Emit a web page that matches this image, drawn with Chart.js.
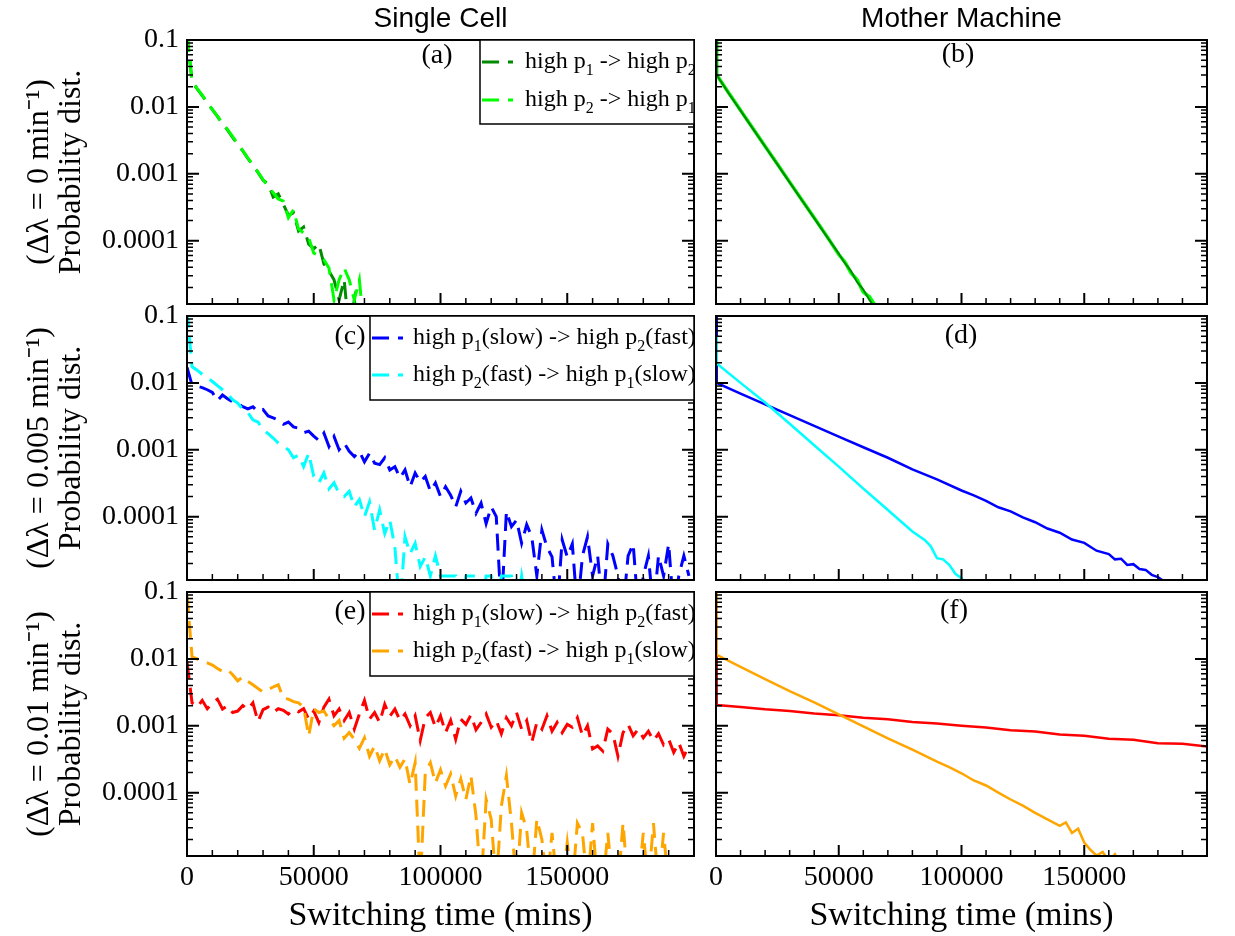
<!DOCTYPE html>
<html>
<head>
<meta charset="utf-8">
<script src="https://cdn.jsdelivr.net/npm/chart.js@4.4.0/dist/chart.umd.min.js"></script>
<style>
  html, body { margin: 0; padding: 0; background: #fff; }
  #wrap { position: relative; width: 1235px; height: 936px; overflow: hidden; background: #fff; }
  canvas { position: absolute; }
</style>
</head>
<body>
<div id="wrap">
  <canvas id="pa"></canvas>
  <canvas id="pb"></canvas>
  <canvas id="pc"></canvas>
  <canvas id="pd"></canvas>
  <canvas id="pe"></canvas>
  <canvas id="pf"></canvas>
</div>
<script>
// ---- data ----
// single cell histograms, one value per bin of binStep mins starting at 0
const binStep = 2000;
const EMPTY = 4e-6; // empty bin, sits below the axis

const scA_p1p2 = [0.12, 0.024, 0.0186, 0.0148, 0.0115, 0.0091, 0.0072, 0.0056, 0.0045, 0.0035,
  0.00275, 0.0022, 0.0017, 0.00135, 0.00105, 0.0008, 0.00071, 0.00045, 0.0005, 0.00035,
  0.00024, 0.00026, 0.00014, 0.00016, 0.000089, 0.000076, 0.000089, 0.000045, 0.000035, 0.000026,
  0.000013, 0.000026, EMPTY, 0.000013, EMPTY];
const scA_p2p1 = [0.12, 0.0245, 0.0188, 0.015, 0.0116, 0.0092, 0.0073, 0.0057, 0.0046, 0.0036,
  0.0028, 0.00222, 0.00172, 0.00136, 0.00106, 0.00082, 0.00065, 0.00052, 0.00042, 0.00039,
  0.00022, 0.00029, 0.00015, 0.00013, 0.00011, 0.000065, 0.00006, 0.000052, 0.000039, 0.000013,
  0.000026, 0.000039, 0.000026, 0.000013, 0.000026, EMPTY];

const scC_slow = [0.017, 0.0093, 0.0089, 0.0085, 0.0079, 0.0072, 0.0054, 0.0066, 0.0058, 0.0052,
  0.0049, 0.0044, 0.0041, 0.0044, 0.0037, 0.004, 0.0032, 0.003, 0.0028, 0.0024,
  0.0026, 0.0022, 0.0021, 0.0018, 0.0019, 0.0016, 0.00138, 0.00178, 0.00112, 0.00158,
  0.001, 0.00126, 0.00095, 0.00079, 0.00095, 0.00066, 0.00089, 0.00063, 0.0006, 0.00076,
  0.0005, 0.00056, 0.00038, 0.0005, 0.00028, 0.00045, 0.00033, 0.0004, 0.00024, 0.00032,
  0.0002, 0.00028, 0.00021, 0.00014, 0.00024, 0.00016, 0.00019, 0.000112, 0.00016, 0.000079,
  0.00014, 0.0001, EMPTY, 0.00012, 0.000071, 0.000089, 0.00004, 0.000076, 0.00005, 0.000013,
  0.000063, 0.000035, 0.000025, EMPTY, 0.000045, 0.000025, 0.000039, EMPTY, 0.000026, 0.00005,
  0.000013, 0.000026, EMPTY, 0.000039, 0.000026, 0.000013, EMPTY, 0.000026, 0.000039, EMPTY,
  0.000013, 0.000026, EMPTY, 0.000026, 0.000013, 0.000039, EMPTY, 0.000013, 0.000026, 0.000013];
const scC_fast = [0.12, 0.0174, 0.0155, 0.0135, 0.012, 0.0105, 0.0091, 0.0079, 0.0068, 0.0056,
  0.005, 0.004, 0.0036, 0.0028, 0.0026, 0.002, 0.00174, 0.0015, 0.00126, 0.00112,
  0.001, 0.00076, 0.00083, 0.00056, 0.00089, 0.0004, 0.00032, 0.00045, 0.00026, 0.00032,
  0.00022, 0.0002, 0.00024, 0.00014, 0.00018, 0.0001, 0.000166, 0.000063, 0.000126, 0.000056,
  0.000089, 0.000035, EMPTY, 0.00005, 0.000028, 0.00004, 0.000018, 0.000025, 0.000013, 0.000026,
  0.000013, 0.000013, 0.000013, 0.000013, EMPTY, 0.000013, 0.000013, 0.000013, EMPTY, 0.000013,
  0.000013, EMPTY, 0.000013, 0.000013, 0.000013, EMPTY, 0.000013, EMPTY];

const scE_slow = [0.009, 0.0022, 0.0019, 0.0024, 0.0018, 0.0022, 0.0025, 0.00178, 0.002, 0.00158,
  0.00166, 0.002, 0.00174, 0.0022, 0.00115, 0.00174, 0.0019, 0.00158, 0.0018, 0.0017,
  0.0015, 0.00174, 0.00162, 0.0018, 0.00126, 0.00166, 0.00112, 0.0019, 0.0025, 0.00141,
  0.00178, 0.0012, 0.00158, 0.00089, 0.0015, 0.0024, 0.00126, 0.00158, 0.00112, 0.0021,
  0.00138, 0.00178, 0.0012, 0.0015, 0.001, 0.00141, 0.0006, 0.00132, 0.00158, 0.00095,
  0.00141, 0.00079, 0.0012, 0.00063, 0.00126, 0.00105, 0.00145, 0.00087, 0.00112, 0.0015,
  0.00095, 0.0012, 0.00076, 0.00132, 0.001, 0.00158, 0.00089, 0.0012, 0.00056, 0.00112,
  0.00089, 0.00141, 0.00083, 0.00112, 0.00079, 0.00105, 0.00095, 0.00132, 0.00071, 0.001,
  0.00045, 0.0005, 0.00042, 0.00089, 0.00076, 0.00035, 0.00079, 0.00105, 0.00071, 0.00089,
  0.00066, 0.00083, 0.0006, 0.00076, 0.00052, 0.00063, 0.0004, 0.00056, 0.00035, 0.0005];
const scE_fast = [0.09, 0.0107, 0.01, 0.0091, 0.0087, 0.0081, 0.0072, 0.0065, 0.0069, 0.0058,
  0.0047, 0.0054, 0.0046, 0.0041, 0.0036, 0.0032, 0.0035, 0.0038, 0.0041, 0.0026,
  0.0025, 0.0023, 0.0022, 0.0019, 0.0007, 0.0018, 0.00158, 0.00166, 0.00126, 0.001,
  0.0012, 0.00065, 0.00079, 0.00063, 0.00046, 0.00066, 0.00035, 0.0005, 0.0003, 0.00045,
  0.00026, 0.00035, 0.00024, 0.00032, 0.000132, 0.00028, EMPTY, 0.0002, 0.00028, 0.00014,
  0.00022, 0.000126, 0.00019, 0.000089, 0.00016, 0.000079, 0.00018, 0.000045, EMPTY, 0.000079,
  0.00004, EMPTY, 0.000063, 0.00018, 0.000035, EMPTY, 0.00005, 0.000028, EMPTY, 0.00004,
  0.00002, EMPTY, 0.000025, EMPTY, EMPTY, 0.000018, EMPTY, 0.000035, 0.000025, EMPTY,
  0.000035, EMPTY, EMPTY, 0.000025, EMPTY, EMPTY, 0.000035, EMPTY, EMPTY, EMPTY,
  0.000025, EMPTY, 0.000035, EMPTY, 0.000025, EMPTY];

// mother machine distributions, explicit switching times (mins)
const mmB_x = [0, 300, 5000, 10000, 15000, 20000, 25000, 30000, 35000, 40000, 45000, 50000,
  52500, 55000, 57500, 60000, 62500, 65000];
const mmB_p1p2 = [0.15, 0.03, 0.0163, 0.0088, 0.00474, 0.00256, 0.00138, 0.000745, 0.000402, 0.000217,
  0.000117, 0.000064, 0.000046, 0.000035, 0.000024, 0.0000185, 0.000013, 0.0000095];
const mmB_p2p1 = [0.15, 0.03, 0.0165, 0.0089, 0.0048, 0.00258, 0.0014, 0.00075, 0.000405, 0.00022,
  0.000119, 0.000062, 0.000048, 0.000033, 0.000026, 0.000017, 0.0000145, 0.0000105];

const mmD_xSlow = [0, 300, 10000, 20000, 30000, 40000, 50000, 60000, 70000, 80000, 90000, 100000,
  105000, 110000, 115000, 120000, 125000, 130000, 135000, 140000, 145000, 150000, 155000, 160000,
  162500, 165000, 167500, 170000, 172500, 175000, 177500, 180000, 182500, 185000];
const mmD_slow = [0.15, 0.01, 0.0069, 0.00478, 0.0033, 0.00228, 0.00157, 0.00109, 0.00076, 0.00051,
  0.00036, 0.000246, 0.000208, 0.000172, 0.000138, 0.00012, 0.0000975, 0.0000825, 0.0000665, 0.0000575,
  0.0000455, 0.0000405, 0.000031, 0.0000275, 0.000023, 0.0000235, 0.000019, 0.0000195, 0.0000165, 0.000016,
  0.0000135, 0.0000125, 0.0000108, 0.000009];
const mmD_xFast = [0, 300, 10000, 20000, 30000, 40000, 50000, 60000, 65000, 70000, 75000, 80000,
  85000, 87500, 90000, 92500, 95000, 97500, 100000, 102500];
const mmD_fast = [0.05, 0.0195, 0.01, 0.0051, 0.00245, 0.00117, 0.00056, 0.000263, 0.000182, 0.000126,
  0.000087, 0.00006, 0.000045, 0.000036, 0.000024, 0.000023, 0.000019, 0.000014, 0.000012, 0.000009];

const mmF_xSlow = [0, 300, 10000, 20000, 30000, 40000, 50000, 60000, 70000, 80000, 90000, 100000,
  110000, 120000, 130000, 140000, 150000, 160000, 170000, 180000, 190000, 200000];
const mmF_slow = [0.2, 0.00204, 0.00191, 0.00176, 0.00166, 0.00152, 0.00144, 0.00132, 0.00125, 0.00114,
  0.00108, 0.001, 0.00094, 0.00086, 0.00082, 0.00074, 0.00071, 0.00064, 0.00062, 0.00055,
  0.00054, 0.00049];
const mmF_xFast = [0, 300, 10000, 20000, 30000, 40000, 50000, 60000, 70000, 80000, 90000, 95000,
  100000, 105000, 110000, 115000, 120000, 125000, 130000, 135000, 140000, 142500, 145000, 147500,
  150000, 152500, 155000, 157500, 160000, 162500, 165000, 167500];
const mmF_fast = [0.15, 0.0115, 0.0076, 0.005, 0.0033, 0.00224, 0.00148, 0.00098, 0.00065, 0.00044,
  0.00029, 0.00024, 0.000195, 0.000152, 0.000128, 0.0001, 0.000079, 0.000064, 0.00005, 0.00004,
  0.000032, 0.000036, 0.000025, 0.000029, 0.000018, 0.000014, 0.0000115, 0.000013, 0.0000095, 0.000012,
  0.000008, 0.000011];

// axes
const xTicks = [0, 50000, 100000, 150000];
const yTickValues = [0.1, 0.01, 0.001, 0.0001];
const yTickLabels = ['0.1', '0.01', '0.001', '0.0001'];
const columnTitles = ['Single Cell', 'Mother Machine'];
const rowTitles = [
  ['(\u0394\u03bb = 0 min\u207b\u00b9)', 'Probability dist.'],
  ['(\u0394\u03bb = 0.005 min\u207b\u00b9)', 'Probability dist.'],
  ['(\u0394\u03bb = 0.01 min\u207b\u00b9)', 'Probability dist.']
];
const xTitle = 'Switching time (mins)';
const labelsNoShift = ['high p\u2081 -> high p\u2082', 'high p\u2082 -> high p\u2081'];
const labelsShift = ['high p\u2081(slow) -> high p\u2082(fast)', 'high p\u2082(fast) -> high p\u2081(slow)'];

const SERIF = '"Liberation Serif", "Times New Roman", serif';
const SANS = '"Liberation Sans", Arial, sans-serif';
const DASH = [17, 9];

function binned(vals) {
  return vals.map((v, i) => ({ x: i * binStep, y: v }));
}
function paired(xs, ys) {
  return xs.map((x, i) => ({ x: x, y: ys[i] }));
}

// text with unicode subscript digits drawn as real lowered digits
function drawSubText(ctx, text, x, y, size) {
  const subs = '\u2080\u2081\u2082\u2083\u2084\u2085\u2086\u2087\u2088\u2089';
  let cx = x;
  let run = '';
  const flush = () => {
    if (!run) return;
    ctx.font = size + 'px ' + SERIF;
    ctx.fillText(run, cx, y);
    cx += ctx.measureText(run).width;
    run = '';
  };
  for (const ch of text) {
    const k = subs.indexOf(ch);
    if (k >= 0) {
      flush();
      ctx.font = Math.round(size * 0.68) + 'px ' + SERIF;
      ctx.fillText(String(k), cx, y + size * 0.3);
      cx += ctx.measureText(String(k)).width;
    } else {
      run += ch;
    }
  }
  flush();
}

// inward ticks, frame, panel tag and boxed legend
const decor = {
  id: 'decor',
  afterDatasetsDraw(chart, args, opts) {
    const ctx = chart.ctx;
    const a = chart.chartArea;
    const x = chart.scales.x, y = chart.scales.y;
    ctx.save();
    ctx.strokeStyle = '#000';
    ctx.setLineDash([]);
    for (let v = 0; v <= x.max; v += 10000) {
      const px = x.getPixelForValue(v);
      const major = v % 50000 === 0;
      ctx.lineWidth = major ? 2 : 1.5;
      ctx.beginPath();
      ctx.moveTo(px, a.bottom);
      ctx.lineTo(px, a.bottom - (major ? 11 : 6));
      ctx.stroke();
    }
    for (let e = -5; e <= -1; e++) {
      for (let k = 1; k <= 9; k++) {
        const v = k * Math.pow(10, e);
        if (v < y.min || v > y.max * 1.0001) continue;
        const py = y.getPixelForValue(v);
        const len = k === 1 ? 12 : 6;
        ctx.lineWidth = k === 1 ? 2 : 1.5;
        ctx.beginPath();
        ctx.moveTo(a.left, py); ctx.lineTo(a.left + len, py);
        ctx.moveTo(a.right, py); ctx.lineTo(a.right - len, py);
        ctx.stroke();
      }
    }
    ctx.lineWidth = 2;
    ctx.strokeRect(a.left, a.top, a.right - a.left, a.bottom - a.top);

    if (opts.legend) {
      const lg = opts.legend;
      const x0 = a.left + lg.x, y0 = a.top;
      ctx.fillStyle = '#fff';
      ctx.fillRect(x0, y0, a.right - x0, lg.h);
      ctx.lineWidth = 1.5;
      ctx.strokeStyle = '#000';
      ctx.strokeRect(x0, y0, a.right - x0, lg.h);
      chart.data.datasets.forEach((ds, i) => {
        const ry = y0 + lg.rows[i];
        ctx.save();
        ctx.strokeStyle = ds.borderColor;
        ctx.lineWidth = 3;
        ctx.setLineDash(ds.borderDash || []);
        ctx.beginPath();
        ctx.moveTo(x0 + 2, ry);
        ctx.lineTo(x0 + 33, ry);
        ctx.stroke();
        ctx.restore();
        ctx.fillStyle = '#000';
        ctx.textAlign = 'left';
        ctx.textBaseline = 'alphabetic';
        drawSubText(ctx, ds.label, x0 + lg.text, ry + 6, 24);
      });
    }
    ctx.fillStyle = '#000';
    ctx.font = '28px ' + SERIF;
    ctx.textAlign = 'center';
    ctx.textBaseline = 'middle';
    ctx.fillText(opts.tag, a.left + opts.tagX, a.top + opts.tagY);
    ctx.restore();
  }
};

function lineSet(label, data, color, dashed, order) {
  return {
    label: label,
    data: data,
    borderColor: color,
    backgroundColor: color,
    borderWidth: dashed ? 3 : 2.5,
    borderDash: dashed ? DASH : [],
    pointRadius: 0,
    tension: 0,
    fill: false,
    clip: 0,
    order: order
  };
}

function makePanel(id, p) {
  const cv = document.getElementById(id);
  cv.width = p.w; cv.height = p.h;
  cv.style.left = p.left + 'px';
  cv.style.top = p.top + 'px';
  const leftCol = p.col === 0;
  const bottomRow = p.row === 2;
  new Chart(cv, {
    type: 'line',
    data: { datasets: p.datasets },
    options: {
      responsive: false,
      animation: false,
      devicePixelRatio: 1,
      events: [],
      layout: { padding: { top: p.padTop, right: p.padRight, left: 0, bottom: 0 } },
      plugins: {
        legend: { display: false },
        tooltip: { enabled: false },
        title: {
          display: p.row === 0,
          text: columnTitles[p.col],
          fullSize: false,
          color: '#000',
          font: { family: SANS, size: 28, weight: 'normal' },
          padding: { top: 2, bottom: 4.4 }
        },
        decor: p.decor
      },
      scales: {
        x: {
          type: 'linear',
          min: 0,
          max: 200000,
          grid: { display: false, drawTicks: false },
          border: { display: false },
          afterBuildTicks: s => { s.ticks = xTicks.map(v => ({ value: v })); },
          afterFit: s => {
            s.height = bottomRow ? 80 : 10;
            s.paddingLeft = 0; s.paddingRight = 0;
          },
          ticks: {
            display: bottomRow,
            autoSkip: false,
            maxRotation: 0,
            padding: 5,
            color: '#000',
            font: { family: SERIF, size: 28 },
            callback: v => String(v)
          },
          title: {
            display: bottomRow,
            text: xTitle,
            color: '#000',
            font: { family: SERIF, size: 34 },
            padding: { top: 0, bottom: 0 }
          }
        },
        y: {
          type: 'logarithmic',
          min: 1.13e-5,
          max: 0.1,
          grid: { display: false, drawTicks: false },
          border: { display: false },
          afterBuildTicks: s => { s.ticks = yTickValues.map(v => ({ value: v })); },
          afterFit: s => {
            s.width = leftCol ? 187 : 16;
            s.paddingTop = 0; s.paddingBottom = 0;
          },
          ticks: {
            display: leftCol,
            autoSkip: false,
            padding: 8,
            color: '#000',
            font: { family: SERIF, size: 28 },
            callback: v => yTickLabels[yTickValues.indexOf(v)]
          },
          title: {
            display: leftCol,
            text: rowTitles[p.row],
            color: '#000',
            font: { family: SERIF, size: 32, lineHeight: 1 },
            padding: { top: 24, bottom: 0 }
          }
        }
      }
    },
    plugins: [decor]
  });
}

// rows: canvas top, height and top padding so plot areas sit at 40/316/592, 264 tall
const rows = [
  { top: 0, h: 314, padTop: 0 },
  { top: 280, h: 310, padTop: 36 },
  { top: 556, h: 380, padTop: 36 }
];
const cols = [
  { left: 0, w: 700, padRight: 6 },
  { left: 700, w: 535, padRight: 28 }
];

function panel(id, row, col, datasets, decorOpts) {
  makePanel(id, {
    row: row, col: col,
    top: rows[row].top, h: rows[row].h, padTop: rows[row].padTop,
    left: cols[col].left, w: cols[col].w, padRight: cols[col].padRight,
    datasets: datasets, decor: decorOpts
  });
}

panel('pa', 0, 0, [
  lineSet(labelsNoShift[0], binned(scA_p1p2), '#008b00', true, 1),
  lineSet(labelsNoShift[1], binned(scA_p2p1), '#00ff00', true, 0)
], { tag: '(a)', tagX: 250, tagY: 16, legend: { x: 293, h: 84, rows: [22, 60], text: 45 } });

panel('pb', 0, 1, [
  Object.assign(lineSet(labelsNoShift[0], paired(mmB_x, mmB_p1p2), '#008b00', false, 0), { borderWidth: 2 }),
  Object.assign(lineSet(labelsNoShift[1], paired(mmB_x, mmB_p2p1), '#00ff00', false, 1), { borderWidth: 3.5 })
], { tag: '(b)', tagX: 242, tagY: 15 });

panel('pc', 1, 0, [
  lineSet(labelsShift[0], binned(scC_slow), '#0000ff', true, 1),
  lineSet(labelsShift[1], binned(scC_fast), '#00ffff', true, 0)
], { tag: '(c)', tagX: 163, tagY: 21, legend: { x: 183, h: 84, rows: [22, 59], text: 43 } });

panel('pd', 1, 1, [
  lineSet(labelsShift[0], paired(mmD_xSlow, mmD_slow), '#0000ff', false, 1),
  lineSet(labelsShift[1], paired(mmD_xFast, mmD_fast), '#00ffff', false, 0)
], { tag: '(d)', tagX: 245, tagY: 20 });

panel('pe', 2, 0, [
  lineSet(labelsShift[0], binned(scE_slow), '#ff0000', true, 1),
  lineSet(labelsShift[1], binned(scE_fast), '#ffa500', true, 0)
], { tag: '(e)', tagX: 163, tagY: 20, legend: { x: 183, h: 84, rows: [22, 59], text: 43 } });

panel('pf', 2, 1, [
  lineSet(labelsShift[0], paired(mmF_xSlow, mmF_slow), '#ff0000', false, 1),
  lineSet(labelsShift[1], paired(mmF_xFast, mmF_fast), '#ffa500', false, 0)
], { tag: '(f)', tagX: 238, tagY: 19 });
</script>
</body>
</html>
